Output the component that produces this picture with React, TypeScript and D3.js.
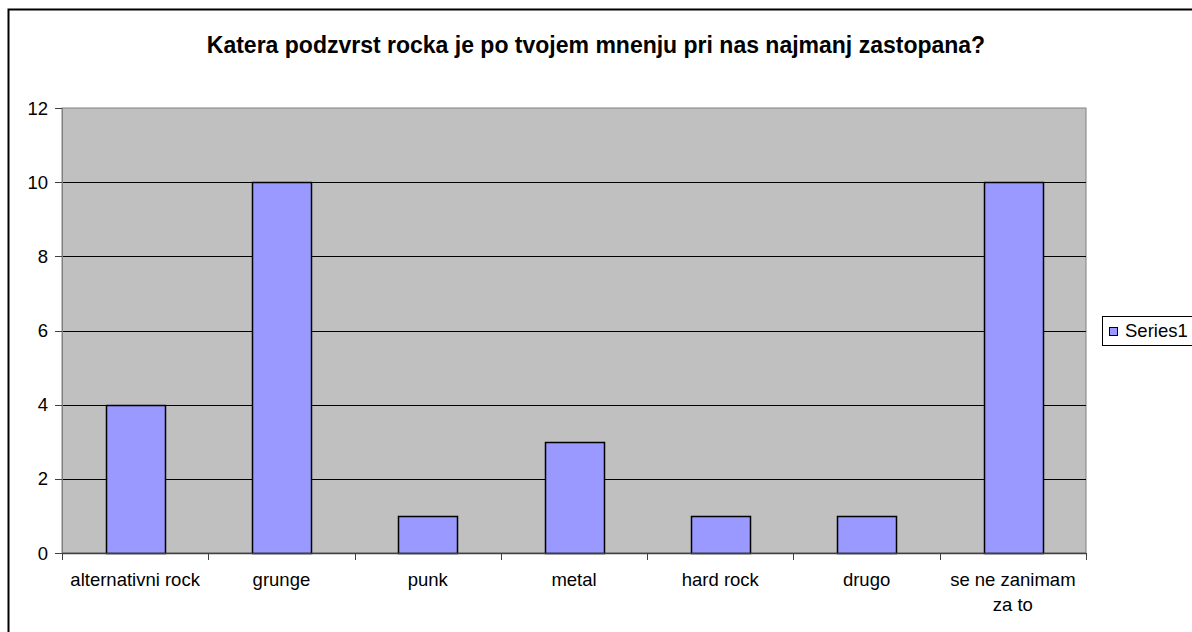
import React, { useEffect, useRef } from 'react';
import * as d3 from 'd3';

const categories = ['alternativni rock', 'grunge', 'punk', 'metal', 'hard rock', 'drugo', 'se ne zanimam za to'];
const values = [4, 10, 1, 3, 1, 1, 10];
const yTicks = [0, 2, 4, 6, 8, 10, 12];
const seriesName = 'Series1';
const title = 'Katera podzvrst rocka je po tvojem mnenju pri nas najmanj zastopana?';

const W = 1192;
const H = 632;
const FONT = 'Arial, "Liberation Sans", sans-serif';

const App: React.FC = () => {
  const svgRef = useRef<SVGSVGElement>(null);

  useEffect(() => {
    if (!svgRef.current) return;
    const svg = d3.select(svgRef.current);
    svg.selectAll('*').remove();

    const plot = { left: 62, top: 108, right: 1086, bottom: 553 };

    // okvir
    svg.append('rect')
      .attr('x', 8.5).attr('y', 9.5)
      .attr('width', W + 20).attr('height', H + 20)
      .attr('fill', 'white').attr('stroke', 'black').attr('stroke-width', 2);

    svg.append('text')
      .attr('x', W / 2).attr('y', 53)
      .attr('text-anchor', 'middle')
      .style('font', `bold 23px ${FONT}`)
      .text(title);

    const x = d3.scaleBand<string>()
      .domain(categories)
      .range([plot.left, plot.right])
      .padding(0);

    const y = d3.scaleLinear()
      .domain([0, 12])
      .range([plot.bottom, plot.top]);

    svg.append('rect')
      .attr('x', plot.left).attr('y', plot.top)
      .attr('width', plot.right - plot.left).attr('height', plot.bottom - plot.top)
      .attr('fill', '#C0C0C0').attr('stroke', '#808080').attr('stroke-width', 1);

    // mreža
    svg.append('g')
      .selectAll('line')
      .data(yTicks.filter(t => t > 0 && t < 12))
      .join('line')
      .attr('x1', plot.left).attr('x2', plot.right)
      .attr('y1', d => Math.round(y(d)) + 0.5).attr('y2', d => Math.round(y(d)) + 0.5)
      .attr('stroke', 'black');

    // stolpci
    const bw = x.bandwidth() * 0.4;
    svg.append('g')
      .selectAll('rect')
      .data(values)
      .join('rect')
      .attr('x', (d, i) => Math.round(x(categories[i])! + (x.bandwidth() - bw) / 2) + 0.5)
      .attr('y', d => Math.round(y(d)) + 0.5)
      .attr('width', Math.round(bw))
      .attr('height', d => Math.round(y(0)) - Math.round(y(d)))
      .attr('fill', '#9999FF')
      .attr('stroke', 'black')
      .attr('stroke-width', 1.5);

    // os y
    const ya = svg.append('g');
    ya.append('line')
      .attr('x1', plot.left + 0.5).attr('x2', plot.left + 0.5)
      .attr('y1', plot.top).attr('y2', plot.bottom)
      .attr('stroke', '#808080');
    ya.selectAll('line.tick')
      .data(yTicks)
      .join('line')
      .attr('class', 'tick')
      .attr('x1', plot.left - 7).attr('x2', plot.left)
      .attr('y1', d => Math.round(y(d)) + 0.5).attr('y2', d => Math.round(y(d)) + 0.5)
      .attr('stroke', '#404040');
    ya.selectAll('text')
      .data(yTicks)
      .join('text')
      .attr('x', plot.left - 14)
      .attr('y', d => y(d) + 6.5)
      .attr('text-anchor', 'end')
      .style('font', `18.5px ${FONT}`)
      .text(d => d);

    // os x
    const xa = svg.append('g');
    xa.append('line')
      .attr('x1', plot.left).attr('x2', plot.right)
      .attr('y1', plot.bottom + 0.5).attr('y2', plot.bottom + 0.5)
      .attr('stroke', '#404040').attr('stroke-width', 1.5);
    xa.selectAll('line.tick')
      .data([...categories.map(c => x(c)!), plot.right])
      .join('line')
      .attr('class', 'tick')
      .attr('x1', d => Math.round(d) + 0.5).attr('x2', d => Math.round(d) + 0.5)
      .attr('y1', plot.bottom).attr('y2', plot.bottom + 7)
      .attr('stroke', '#404040');

    const wrap: Record<string, string[]> = { 'se ne zanimam za to': ['se ne zanimam', 'za to'] };
    xa.selectAll('text')
      .data(categories)
      .join('text')
      .attr('text-anchor', 'middle')
      .style('font', `18.5px ${FONT}`)
      .each(function (d) {
        const lines = wrap[d] || [d];
        const t = d3.select(this);
        lines.forEach((l, i) => {
          t.append('tspan')
            .attr('x', x(d)! + x.bandwidth() / 2)
            .attr('y', 586 + i * 25)
            .text(l);
        });
      });

    // legenda
    const lg = svg.append('g');
    lg.append('rect')
      .attr('x', 1102.5).attr('y', 316.5)
      .attr('width', 100).attr('height', 29)
      .attr('fill', 'white').attr('stroke', 'black');
    lg.append('rect')
      .attr('x', 1109.5).attr('y', 327.5)
      .attr('width', 8).attr('height', 8)
      .attr('fill', '#9999FF').attr('stroke', 'black');
    lg.append('text')
      .attr('x', 1125).attr('y', 337)
      .style('font', `18.5px ${FONT}`)
      .text(seriesName);
  }, []);

  return (
    <svg
      ref={svgRef}
      width={W}
      height={H}
      style={{ position: 'absolute', left: 0, top: 0, background: 'white' }}
    />
  );
};

export default App;
